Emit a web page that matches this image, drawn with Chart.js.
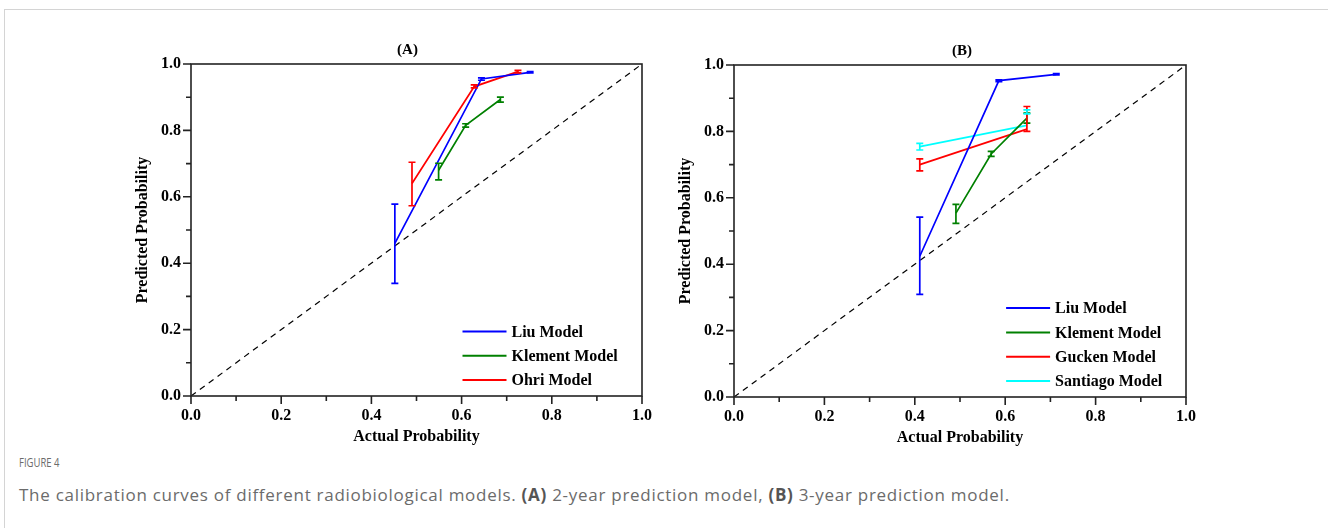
<!DOCTYPE html>
<html>
<head>
<meta charset="utf-8">
<script src="https://cdn.jsdelivr.net/npm/chart.js@4.4.1/dist/chart.umd.min.js"></script>
<style>
    body { margin: 0; background: #fff; width: 1328px; height: 528px; position: relative; overflow: hidden; }
    .box { position: absolute; left: 4px; top: 9px; width: 1400px; height: 600px; border: 1px solid #d4d4d4; }
    .panel { position: absolute; }
    #figLabel { position: absolute; left: 19px; top: 454px; font: 12.5px "Open Sans", sans-serif; color: #6b6b6b; transform: scaleX(0.76); transform-origin: 0 0; }
    #caption { position: absolute; left: 19px; top: 483px; font: 17px "Open Sans", sans-serif; color: #6b6b6b; letter-spacing: 0.72px; white-space: nowrap; }
    #caption b { color: #555; }
</style>
</head>
<body>
<div class="box"></div>
<div class="panel" style="left:110px;top:30px;width:550px;height:420px"><canvas id="chartA"></canvas></div>
<div class="panel" style="left:653px;top:31px;width:551px;height:420px"><canvas id="chartB"></canvas></div>
<div id="figLabel">FIGURE 4</div>
<div id="caption">The calibration curves of different radiobiological models. <b>(A)</b> 2-year prediction model, <b>(B)</b> 3-year prediction model.</div>
<script>
// (A) 2-year
const liuA_x = [0.452, 0.644, 0.752];
const liuA_y = [0.46, 0.955, 0.975];
const liuA_lo = [0.339, 0.951, 0.973];
const liuA_hi = [0.578, 0.958, 0.977];

const klementA_x = [0.549, 0.609, 0.686];
const klementA_y = [0.68, 0.815, 0.893];
const klementA_lo = [0.651, 0.810, 0.885];
const klementA_hi = [0.701, 0.820, 0.900];

const ohriA_x = [0.49, 0.628, 0.725];
const ohriA_y = [0.64, 0.932, 0.977];
const ohriA_lo = [0.573, 0.928, 0.973];
const ohriA_hi = [0.704, 0.937, 0.981];

// (B) 3-year
const liuB_x = [0.411, 0.586, 0.713];
const liuB_y = [0.424, 0.953, 0.972];
const liuB_lo = [0.309, 0.950, 0.970];
const liuB_hi = [0.542, 0.955, 0.974];

const klementB_x = [0.491, 0.569, 0.648];
const klementB_y = [0.554, 0.732, 0.84];
const klementB_lo = [0.523, 0.725, 0.825];
const klementB_hi = [0.580, 0.740, 0.855];

const guckenB_x = [0.411, 0.648];
const guckenB_y = [0.70, 0.807];
const guckenB_lo = [0.681, 0.800];
const guckenB_hi = [0.717, 0.875];

const santiagoB_x = [0.411, 0.648];
const santiagoB_y = [0.754, 0.818];
const santiagoB_lo = [0.744, 0.853];
const santiagoB_hi = [0.764, 0.865];

const diagonal = [0, 1];
const tickValues = [0, 0.1, 0.2, 0.3, 0.4, 0.5, 0.6, 0.7, 0.8, 0.9, 1.0];

const serif = '"Liberation Serif", "Times New Roman", serif';

function pts(xs, ys) {
    return xs.map((v, i) => ({x: v, y: ys[i]}));
}

function series(label, color, xs, ys, lo, hi) {
    return {
        label: label,
        data: pts(xs, ys),
        lo: lo,
        hi: hi,
        showLine: true,
        borderColor: color,
        backgroundColor: color,
        borderWidth: 1.7,
        pointRadius: 0,
        tension: 0,
    };
}

// error bars, frame, minor ticks, panel title and legend
const decorations = {
    id: 'decorations',
    afterDatasetsDraw(chart, args, opts) {
        const {ctx, chartArea: a, scales: {x, y}} = chart;
        ctx.save();
        chart.data.datasets.forEach((ds) => {
            if (!ds.lo) {
                return;
            }
            ctx.strokeStyle = ds.borderColor;
            ctx.lineWidth = 1.7;
            ds.data.forEach((p, j) => {
                const px = x.getPixelForValue(p.x);
                const yl = y.getPixelForValue(ds.lo[j]);
                const yh = y.getPixelForValue(ds.hi[j]);
                ctx.beginPath();
                ctx.moveTo(px, yl);
                ctx.lineTo(px, yh);
                ctx.moveTo(px - 3.5, yl);
                ctx.lineTo(px + 3.5, yl);
                ctx.moveTo(px - 3.5, yh);
                ctx.lineTo(px + 3.5, yh);
                ctx.stroke();
            });
        });

        ctx.strokeStyle = '#222';
        ctx.lineWidth = 1.6;
        ctx.strokeRect(a.left, a.top, a.right - a.left, a.bottom - a.top);
        ctx.beginPath();
        tickValues.forEach((v, k) => {
            const len = k % 2 ? 5 : 8;
            const px = x.getPixelForValue(v);
            const py = y.getPixelForValue(v);
            ctx.moveTo(px, a.bottom);
            ctx.lineTo(px, a.bottom + len);
            ctx.moveTo(a.left, py);
            ctx.lineTo(a.left - len, py);
        });
        ctx.stroke();

        ctx.fillStyle = '#000';
        ctx.font = 'bold 15px ' + serif;
        ctx.textAlign = 'center';
        ctx.textBaseline = 'middle';
        ctx.fillText(opts.title, (a.left + a.right) / 2 + (opts.titleShift || 0), a.top - 14);

        // legend
        const items = chart.data.datasets.filter((ds) => ds.lo);
        const x0 = a.left + (a.right - a.left) * 0.602;
        let yy = a.bottom - 16 - (items.length - 1) * 24.3;
        ctx.font = 'bold 16px ' + serif;
        ctx.textAlign = 'left';
        items.forEach((ds) => {
            ctx.strokeStyle = ds.borderColor;
            ctx.lineWidth = 2;
            ctx.beginPath();
            ctx.moveTo(x0, yy);
            ctx.lineTo(x0 + 44, yy);
            ctx.stroke();
            ctx.fillText(ds.label, x0 + 49, yy + 1);
            yy += 24.3;
        });
        ctx.restore();
    }
};

function makeChart(id, title, titleShift, datasets) {
    datasets.unshift({
        label: 'diagonal',
        data: pts(diagonal, diagonal),
        showLine: true,
        borderColor: '#000',
        borderWidth: 1.2,
        borderDash: [6, 5],
        pointRadius: 0,
    });
    return new Chart(document.getElementById(id), {
        type: 'scatter',
        data: {datasets: datasets},
        plugins: [decorations],
        options: {
            responsive: true,
            maintainAspectRatio: false,
            animation: false,
            layout: {padding: {left: 10, right: 18, top: 34, bottom: 4}},
            plugins: {
                legend: {display: false},
                tooltip: {enabled: false},
                decorations: {title: title, titleShift: titleShift},
            },
            scales: {
                x: {
                    type: 'linear',
                    min: 0,
                    max: 1,
                    afterFit: (scale) => { scale.height = 50; },
                    grid: {color: 'rgba(0,0,0,0)', drawOnChartArea: false, tickLength: 8},
                    border: {display: false},
                    ticks: {
                        stepSize: 0.2,
                        padding: 2,
                        color: '#000',
                        font: {family: serif, size: 16, weight: 'bold'},
                        callback: (v) => v.toFixed(1),
                    },
                    title: {
                        display: true,
                        text: 'Actual Probability',
                        color: '#000',
                        padding: {top: 0, bottom: 0},
                        font: {family: serif, size: 16, weight: 'bold'},
                    },
                },
                y: {
                    min: 0,
                    max: 1,
                    afterFit: (scale) => { scale.width = 71; },
                    grid: {color: 'rgba(0,0,0,0)', drawOnChartArea: false, tickLength: 8},
                    border: {display: false},
                    ticks: {
                        stepSize: 0.2,
                        padding: 2,
                        color: '#000',
                        font: {family: serif, size: 16, weight: 'bold'},
                        callback: (v) => v.toFixed(1),
                    },
                    title: {
                        display: true,
                        text: 'Predicted Probability',
                        color: '#000',
                        padding: {top: 13, bottom: 0},
                        font: {family: serif, size: 16, weight: 'bold'},
                    },
                },
            },
        },
    });
}

makeChart('chartA', '(A)', -9, [
    series('Liu Model', '#0000ff', liuA_x, liuA_y, liuA_lo, liuA_hi),
    series('Klement Model', '#008000', klementA_x, klementA_y, klementA_lo, klementA_hi),
    series('Ohri Model', '#ff0000', ohriA_x, ohriA_y, ohriA_lo, ohriA_hi),
]);

makeChart('chartB', '(B)', 2, [
    series('Liu Model', '#0000ff', liuB_x, liuB_y, liuB_lo, liuB_hi),
    series('Klement Model', '#008000', klementB_x, klementB_y, klementB_lo, klementB_hi),
    series('Gucken Model', '#ff0000', guckenB_x, guckenB_y, guckenB_lo, guckenB_hi),
    series('Santiago Model', '#00ffff', santiagoB_x, santiagoB_y, santiagoB_lo, santiagoB_hi),
]);
</script>
</body>
</html>
